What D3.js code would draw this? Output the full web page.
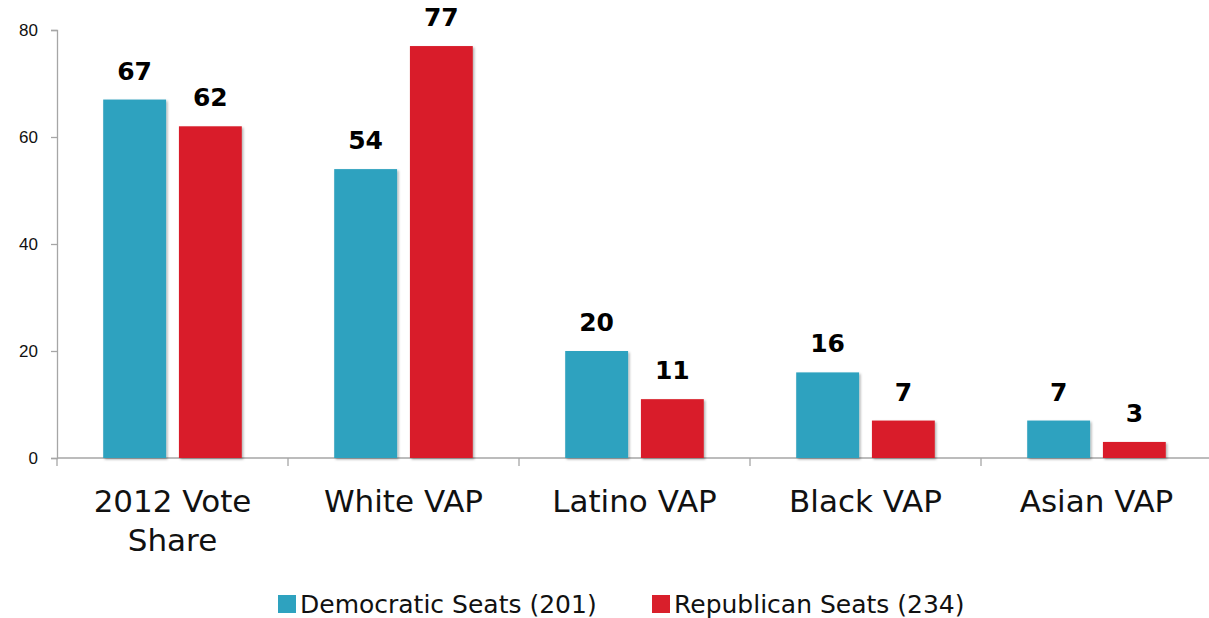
<!DOCTYPE html>
<meta charset="utf-8">
<style>
body { margin: 0; background: #fff; }
svg { display: block; font-family: "DejaVu Sans", sans-serif; }
.axis path, .axis line { stroke: #a6a6a6; stroke-width: 1.3px; }
.axis text { fill: #111; }
.val { font-weight: bold; text-anchor: middle; fill: #000; }
</style>
<script src="https://cdnjs.cloudflare.com/ajax/libs/d3/7.8.5/d3.min.js"></script>
<body>
<svg width="1209" height="618"></svg>
</body>
<script>

var categories = [["2012 Vote", "Share"], ["White VAP"], ["Latino VAP"], ["Black VAP"], ["Asian VAP"]];
var series = ["Democratic Seats (201)", "Republican Seats (234)"];
var demValues = [67, 54, 20, 16, 7];
var repValues = [62, 77, 11, 7, 3];
var yTicks = [0, 20, 40, 60, 80];
var colors = ["#2ea2bf", "#d91f2b"];

var svg = d3.select("svg"),
    plotLeft = 57, plotRight = 1212, plotTop = 30, plotBottom = 458;

var keys = categories.map(function(d, i) { return i; });

var x0 = d3.scaleBand().domain(keys).range([plotLeft, plotRight]).padding(0);
var bw = x0.bandwidth();
var x1 = d3.scaleBand().domain([0, 1]).range([bw * 0.2, bw * 0.8]).paddingInner(0.17);
var y = d3.scaleLinear().domain([0, 80]).range([plotBottom, plotTop]);

var defs = svg.append("defs");
var f = defs.append("filter").attr("id", "shadow").attr("x", "-10%").attr("y", "-10%").attr("width", "130%").attr("height", "130%");
f.append("feDropShadow").attr("dx", 1.5).attr("dy", 1.5).attr("stdDeviation", 1.2).attr("flood-color", "#000").attr("flood-opacity", 0.3);

// y axis
var yAxis = svg.append("g").attr("class", "axis")
    .attr("transform", "translate(" + plotLeft + ",0)")
    .call(d3.axisLeft(y).tickValues(yTicks).tickSize(6).tickPadding(13));
yAxis.selectAll("text").style("font-size", "17px");

// x axis line + category ticks
var xg = svg.append("g").attr("class", "axis");
xg.append("line").attr("x1", plotLeft).attr("x2", plotRight).attr("y1", plotBottom).attr("y2", plotBottom);
xg.selectAll(".ct").data(keys).enter().append("line")
    .attr("x1", function(d) { return x0(d); }).attr("x2", function(d) { return x0(d); })
    .attr("y1", plotBottom).attr("y2", plotBottom + 8);

var groups = svg.selectAll(".grp").data(keys).enter().append("g")
    .attr("transform", function(d) { return "translate(" + x0(d) + ",0)"; });

var bars = groups.selectAll("rect").data(function(i) { return [demValues[i], repValues[i]]; })
  .enter();

bars.append("rect")
    .attr("x", function(d, j) { return x1(j); })
    .attr("y", function(d) { return y(d); })
    .attr("width", x1.bandwidth())
    .attr("height", function(d) { return plotBottom - y(d); })
    .attr("fill", function(d, j) { return colors[j]; })
    .attr("filter", "url(#shadow)");

bars.append("text").attr("class", "val")
    .attr("x", function(d, j) { return x1(j) + x1.bandwidth() / 2; })
    .attr("y", function(d) { return y(d) - 20; })
    .style("font-size", "25px")
    .text(function(d) { return d; });

// category labels
groups.append("text")
    .attr("text-anchor", "middle")
    .attr("x", bw / 2)
    .attr("y", 512)
    .style("font-size", "31px")
    .attr("fill", "#111")
    .selectAll("tspan").data(function(i) { return categories[i]; })
    .enter().append("tspan")
    .attr("x", bw / 2)
    .attr("dy", function(d, k) { return k ? 39 : 0; })
    .text(function(d) { return d; });

// legend
var legX = [278, 652];
var leg = svg.selectAll(".leg").data(series).enter().append("g")
    .attr("transform", function(d, i) { return "translate(" + legX[i] + ",595)"; });
leg.append("rect").attr("width", 18).attr("height", 18)
    .attr("fill", function(d, i) { return colors[i]; });
leg.append("text").attr("x", 22).attr("y", 18)
    .style("font-size", "25px").attr("fill", "#111")
    .text(function(d) { return d; });

</script>
